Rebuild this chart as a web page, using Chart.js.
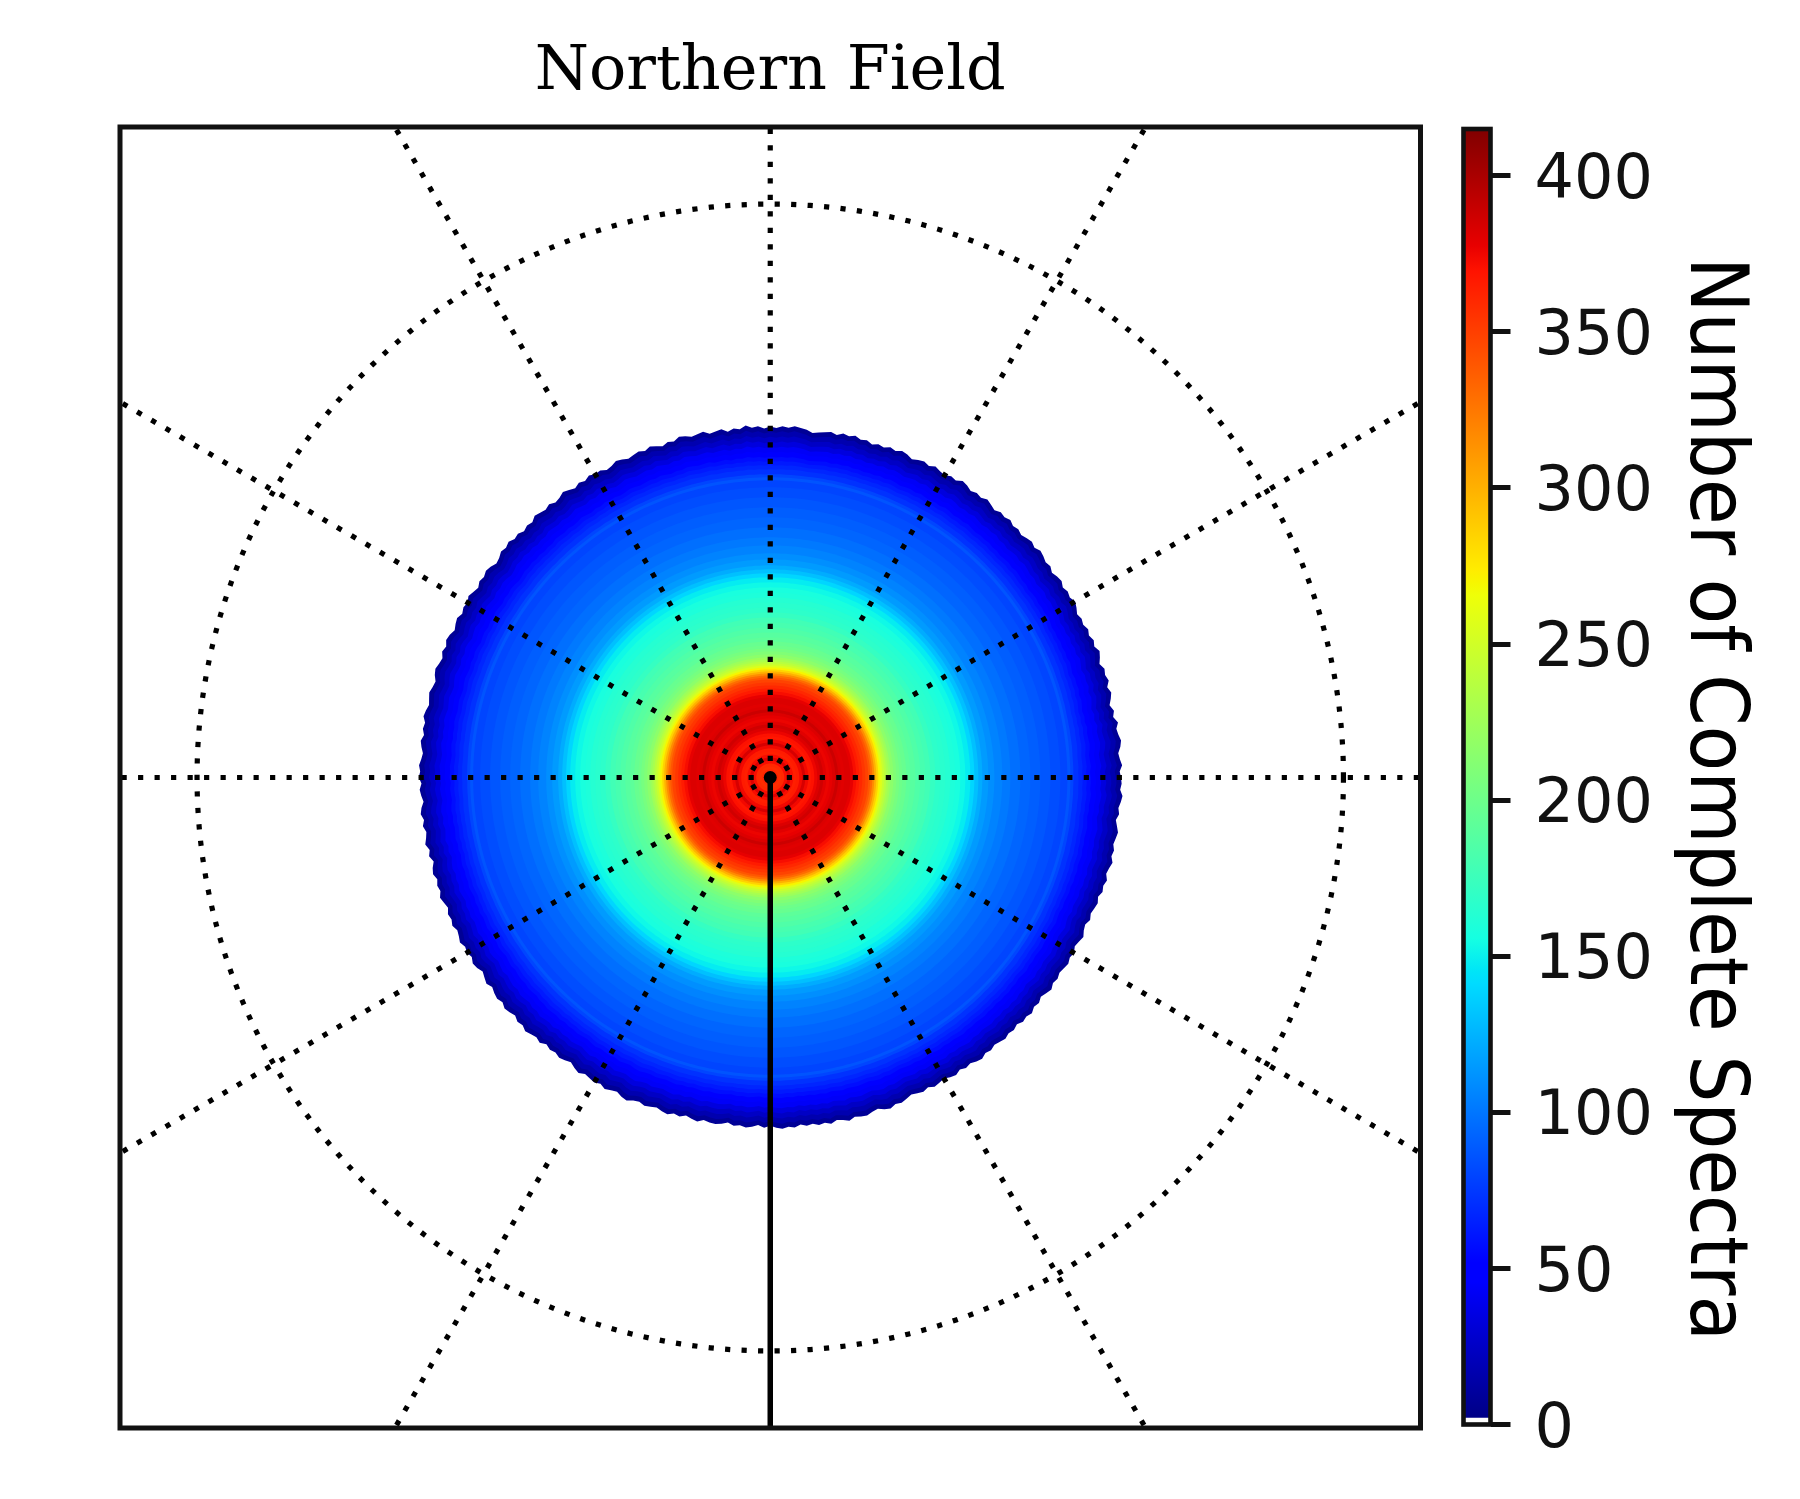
<!DOCTYPE html>
<html>
<head>
<meta charset="utf-8">
<title>Northern Field</title>
<script src="https://cdn.jsdelivr.net/npm/chart.js@4"></script>
<style>
  html, body { margin: 0; padding: 0; background: #fff; }
  canvas { position: absolute; left: 0; top: 0; }
</style>
</head>
<body>
<canvas id="map-chart" width="1800" height="1499"></canvas>
<canvas id="colorbar-chart" width="1800" height="1499"></canvas>
<script>
const profileRadius = [
  4, 8, 11, 14, 17, 20, 23, 26, 29, 32, 35, 38, 41, 44, 47, 50, 53, 56, 59, 62,
  65, 68, 71, 74, 77, 80, 83, 86, 89, 92, 95, 98, 100, 102, 104, 106, 108, 110, 112, 114,
  116, 118, 120, 123, 126, 129, 132, 136, 140, 145, 150, 155, 160, 165, 170, 175, 180, 185, 190, 195,
  200, 204, 208, 212, 218, 224, 232, 240, 250, 260, 270, 280, 290, 297, 300, 303, 308, 312, 316, 320,
  325, 330, 335, 340, 345, 350
];
const profileCount = [
  362, 362, 358, 360, 372, 382, 372, 364, 366, 374, 384, 374, 368, 370, 376, 382, 386, 380, 376, 378,
  382, 388, 382, 380, 382, 382, 378, 372, 366, 360, 354, 348, 340, 330, 316, 300, 285, 270, 256, 246,
  238, 230, 224, 216, 210, 205, 200, 197, 192, 189, 185, 181, 178, 172, 168, 166, 164, 160, 158, 153,
  148, 139, 130, 122, 115, 110, 105, 101, 97, 93, 90, 87, 83, 80, 86, 80, 72, 67, 62, 57,
  50, 43, 34, 25, 17, 8
];

// edge of the field, one radius per degree going round from east
const edgeRadius = [
  351, 349, 353, 350, 348, 352, 354, 351, 349, 353, 347, 350, 345, 349, 352, 348, 353, 350, 352, 347,
  351, 354, 349, 352, 348, 351, 347, 349, 346, 350, 353, 349, 351, 348, 352, 350, 347, 351, 349, 352,
  354, 350, 353, 351, 348, 351, 349, 353, 350, 352, 348, 351, 354, 350, 352, 349, 353, 355, 350, 352,
  348, 350, 353, 349, 352, 350, 347, 351, 353, 349, 352, 348, 350, 347, 351, 349, 353, 350, 352, 348,
  351, 349, 347, 345, 349, 351, 353, 350, 352, 349,
  351, 348, 352, 350, 354, 349, 351, 347, 352, 350, 348, 353, 351, 349, 352, 354, 349, 351, 347, 350,
  353, 349, 352, 350, 348, 351, 353, 349, 347, 351, 350, 353, 349, 352, 348, 351, 354, 350, 348, 352,
  349, 351, 353, 348, 350, 347, 351, 349, 353, 350, 352, 348, 346, 350, 352, 349, 351, 347, 350, 353,
  349, 351, 348, 352, 350, 347, 351, 353, 349, 352, 348, 350, 353, 351, 347, 349, 352, 350, 348, 351,
  353, 349, 351, 348, 352, 350, 347, 349, 352, 350,
  352, 348, 351, 349, 346, 350, 352, 348, 351, 347, 349, 352, 347, 350, 345, 349, 351, 347, 350, 348,
  352, 349, 346, 350, 348, 351, 347, 349, 352, 348, 350, 347, 351, 349, 345, 348, 351, 347, 350, 352,
  349, 353, 351, 348, 352, 350, 354, 351, 349, 352, 347, 350, 348, 351, 349, 346, 350, 353, 349, 351,
  353, 350, 354, 351, 349, 353, 355, 351, 349, 352, 350, 348, 351, 353, 349, 351, 347, 350, 352, 348,
  350, 351, 349, 346, 350, 348, 351, 349, 346, 350,
  347, 350, 352, 349, 351, 347, 350, 348, 351, 349, 352, 348, 350, 353, 349, 351, 352, 349, 347, 351,
  353, 349, 351, 348, 345, 347, 349, 346, 350, 348, 346, 349, 351, 347, 350, 348, 351, 353, 349, 351,
  348, 350, 352, 349, 351, 348, 352, 350, 353, 349, 351, 347, 350, 353, 349, 351, 348, 350, 352, 349,
  351, 347, 349, 352, 348, 346, 350, 347, 349, 351, 348, 352, 350, 353, 349, 351, 354, 350, 352, 349,
  351, 353, 350, 347, 351, 349, 352, 354, 350, 352
];

// graticule
const ringRadius = [573];
const spokeAngles = [0, 30, 60, 90, 120, 150, 180, 210, 240, 300, 330];
const solidSpokeAngle = 270;
const spokeLength = 800;

// colour bar
const countTicks = [0, 50, 100, 150, 200, 250, 300, 350, 400];
const countMin = 2.3;
const countMax = 415;
const jetStops = [0, 0.11, 0.125, 0.34, 0.35, 0.375, 0.64, 0.65, 0.66, 0.89, 0.91, 1];

// matplotlib jet
function channel(points, f) {
    for (let i = 1; i < points.length; i++) {
        if (f <= points[i][0]) {
            const a = points[i - 1], b = points[i];
            return a[1] + (b[1] - a[1]) * (f - a[0]) / (b[0] - a[0]);
        }
    }
    return points[points.length - 1][1];
}
function jet(f) {
    const r = channel([[0, 0], [0.35, 0], [0.66, 1], [0.89, 1], [1, 0.5]], f);
    const g = channel([[0, 0], [0.125, 0], [0.375, 1], [0.64, 1], [0.91, 0], [1, 0]], f);
    const b = channel([[0, 0.5], [0.11, 1], [0.34, 1], [0.65, 0], [1, 0]], f);
    return `rgb(${Math.round(r * 255)},${Math.round(g * 255)},${Math.round(b * 255)})`;
}

function polar(r, deg) {
    const a = deg * Math.PI / 180;
    return { x: r * Math.cos(a), y: r * Math.sin(a) };
}

// outline of one disc, the outer ones follow the rough edge of the field
function discOutline(r) {
    const pull = 0.65 * Math.min(1, Math.max(0, (r - 300) / 50));
    const pts = edgeRadius.map((e, i) => polar(r + (e - 350) * pull, i));
    pts.push(pts[0]);
    return pts;
}

function frame(color, width) {
    return {
        id: 'frame',
        afterDraw(chart) {
            const { left, top, width: w, height: h } = chart.chartArea;
            const ctx = chart.ctx;
            ctx.save();
            ctx.strokeStyle = color;
            ctx.lineWidth = width;
            ctx.lineJoin = 'miter';
            ctx.strokeRect(left, top, w, h);
            ctx.restore();
        }
    };
}

const mapDatasets = [];

// pole and solid meridian go on top
mapDatasets.push({
    data: [{ x: 0, y: 0 }],
    showLine: false,
    pointRadius: 6.5,
    pointBackgroundColor: '#000',
    pointBorderWidth: 0,
    order: 0
});
mapDatasets.push({
    data: [{ x: 0, y: 0 }, polar(spokeLength, solidSpokeAngle)],
    showLine: true,
    borderColor: '#000',
    borderWidth: 5.5,
    pointRadius: 0,
    order: 0
});

spokeAngles.forEach(deg => {
    mapDatasets.push({
        data: [{ x: 0, y: 0 }, polar(spokeLength, deg)],
        showLine: true,
        borderColor: '#000',
        borderWidth: 5.2,
        borderDash: [5.2, 11.3],
        pointRadius: 0,
        order: 1
    });
});

ringRadius.forEach(r => {
    const pts = [];
    for (let d = 0; d <= 360; d += 1) pts.push(polar(r, d));
    mapDatasets.push({
        data: pts,
        showLine: true,
        borderColor: '#000',
        borderWidth: 5.2,
        borderDash: [5.2, 11.3],
        pointRadius: 0,
        order: 1
    });
});

// discs, smallest first so it sits on top of the bigger ones
// the borderDash keeps chart.js off its fast path, that one merges points on the same pixel column
profileRadius.forEach((r, i) => {
    const c = jet(profileCount[i] / countMax);
    mapDatasets.push({
        data: discOutline(r),
        showLine: true,
        fill: 'shape',
        backgroundColor: c,
        borderColor: c,
        borderWidth: 0,
        borderDash: [1, 0],
        pointRadius: 0,
        order: 2
    });
});

new Chart(document.querySelector('#map-chart').getContext('2d'), {
    type: 'scatter',
    data: { datasets: mapDatasets },
    options: {
        responsive: false,
        animation: false,
        layout: { padding: { left: 120, right: 379.5, top: 0, bottom: 71 } },
        scales: {
            x: { type: 'linear', min: -650, max: 650, display: false },
            y: { type: 'linear', min: -650, max: 650, display: false }
        },
        plugins: {
            legend: { display: false },
            tooltip: { enabled: false },
            title: {
                display: true,
                text: 'Northern Field',
                fullSize: false,
                color: '#000',
                font: { family: '"DejaVu Serif"', size: 62, weight: 'normal' },
                padding: { top: 36, bottom: 16.6 }
            }
        }
    },
    plugins: [frame('#111', 5)]
});

const axisLabel = {
    id: 'axisLabel',
    afterDraw(chart) {
        const ctx = chart.ctx;
        const text = 'Number of Complete Spectra';
        ctx.save();
        ctx.font = '80px "DejaVu Sans"';
        ctx.fillStyle = '#000';
        ctx.textAlign = 'center';
        ctx.textBaseline = 'alphabetic';
        const squeeze = 1084 / ctx.measureText(text).width;
        ctx.translate(1691, 799);
        ctx.rotate(Math.PI / 2);
        ctx.scale(squeeze, 1);
        ctx.fillText(text, 0, 0);
        ctx.restore();
    }
};

new Chart(document.querySelector('#colorbar-chart').getContext('2d'), {
    type: 'bar',
    data: {
        labels: ['count'],
        datasets: [{
            data: [[countMin, countMax]],
            barPercentage: 1,
            categoryPercentage: 1,
            borderWidth: 0,
            backgroundColor(context) {
                const { chart } = context;
                if (!chart.chartArea) return '#00f';
                const y = chart.scales.y;
                const g = chart.ctx.createLinearGradient(0, y.getPixelForValue(0), 0, y.getPixelForValue(countMax));
                jetStops.forEach(s => g.addColorStop(s, jet(s)));
                return g;
            }
        }]
    },
    options: {
        responsive: false,
        animation: false,
        layout: { padding: { left: 1463.5, right: 0, top: 129, bottom: 74.5 } },
        scales: {
            x: { display: false },
            y: {
                position: 'right',
                min: 0,
                max: countMax,
                afterBuildTicks(axis) { axis.ticks = countTicks.map(value => ({ value })); },
                afterFit(axis) { axis.width = 309.5; },
                border: { display: false },
                grid: {
                    drawOnChartArea: false,
                    drawTicks: true,
                    tickLength: 20,
                    tickWidth: 5,
                    tickColor: '#111'
                },
                ticks: {
                    color: '#111',
                    padding: 24,
                    labelOffset: 6,
                    font: { family: '"DejaVu Sans"', size: 62 }
                }
            }
        },
        plugins: {
            legend: { display: false },
            tooltip: { enabled: false }
        }
    },
    plugins: [frame('#111', 4.6), axisLabel]
});
</script>
</body>
</html>
